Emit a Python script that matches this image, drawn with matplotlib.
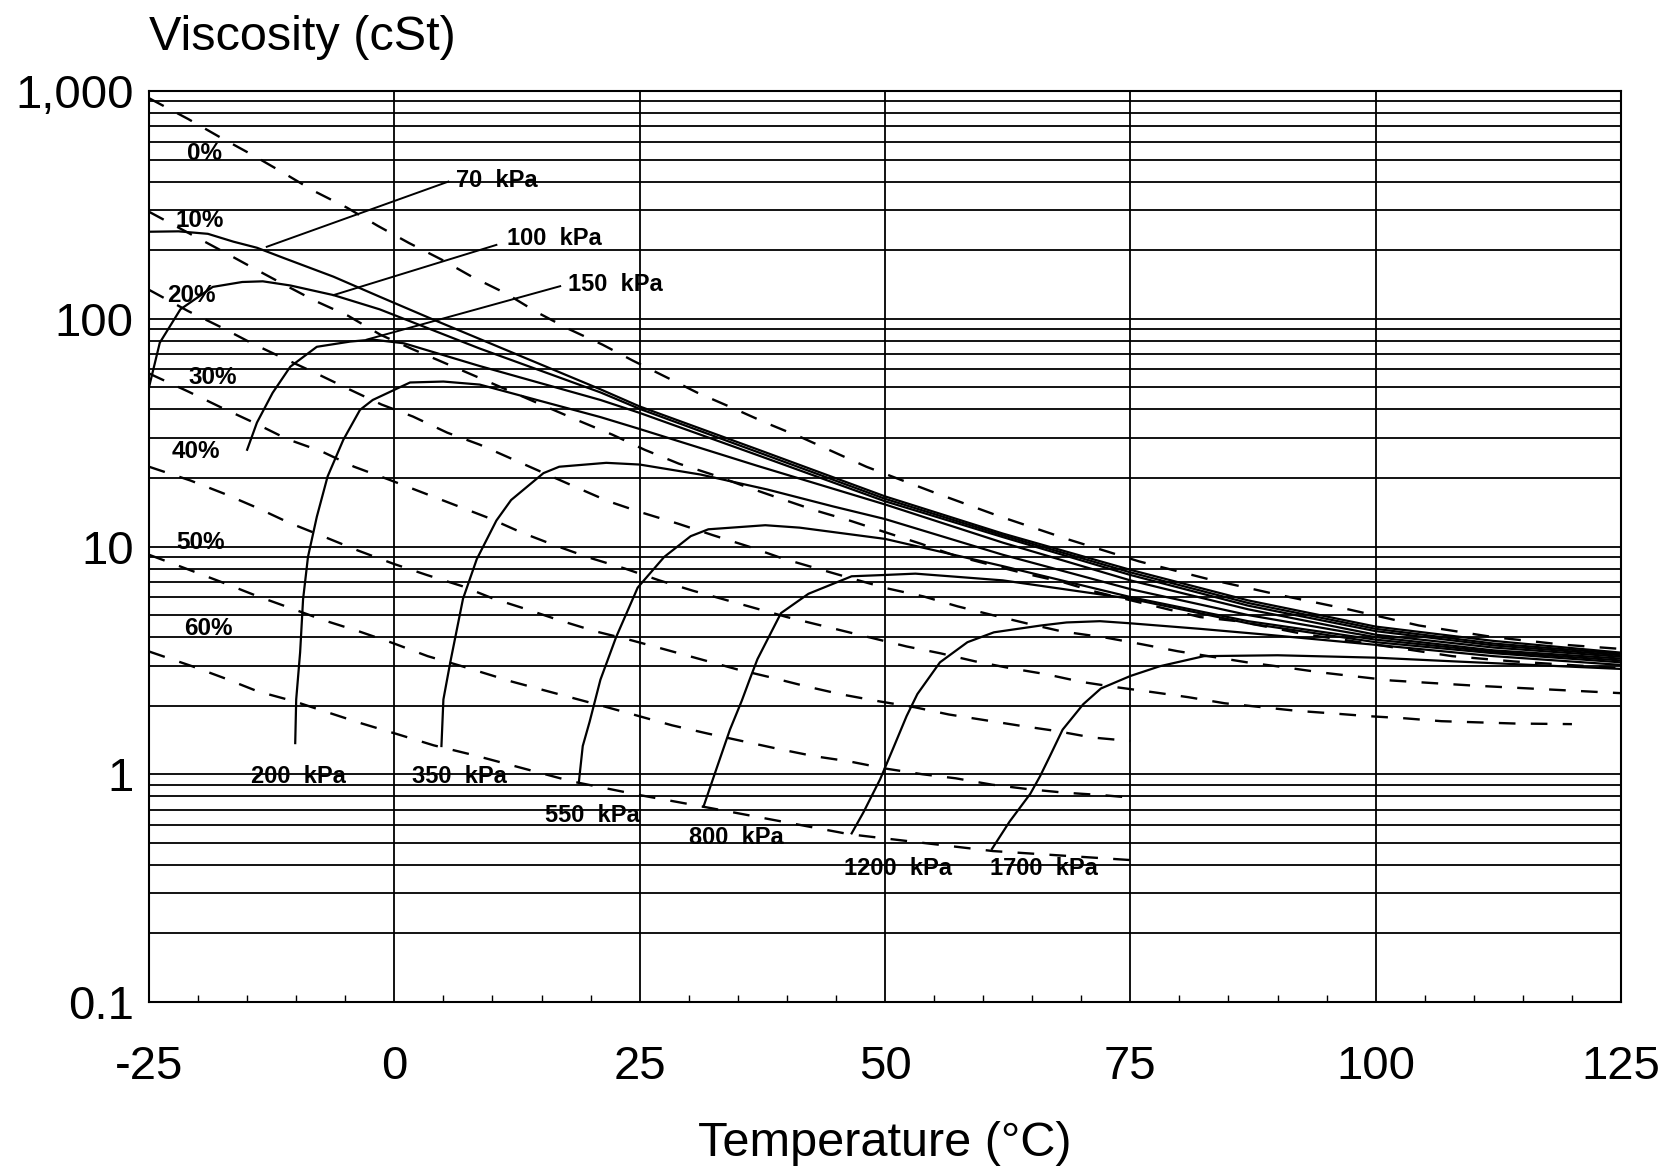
import numpy as np
import matplotlib.pyplot as plt
from matplotlib.ticker import LogLocator, NullFormatter, MultipleLocator

plt.rcParams['font.family'] = ['Liberation Sans', 'DejaVu Sans']
plt.rcParams['lines.scale_dashes'] = False

# ---- dashed lines: refrigerant concentration (T in degC, viscosity in cSt) ----
pct0_T = [-25, -21, -17.8, -14.5, -11.3, -8.2, -4.8, -1.7, 1.5, 4.8, 7.9, 11.4, 14.5, 17.8, 21.2, 24.3,
          27.6, 30.9, 34.4, 37.8, 41.5, 48.1, 54.8, 61.6, 68.8, 75.9, 82.9, 90, 97.2, 104.4, 112, 119.3, 125]
pct0_v = [930, 753, 628, 525, 437, 364, 307, 256, 215, 182, 153, 129, 107, 90, 77, 65.5,
          55.7, 47.3, 40.7, 35, 30.1, 22.4, 17.4, 13.6, 10.7, 8.6, 7.2, 6.15, 5.3, 4.5, 4.0, 3.7, 3.55]

pct10_T = [-25, -17.8, -14.6, -11.2, -8.1, -4.7, -1.4, 1.7, 9.1, 15.4, 18.9, 22.2, 25.5, 29, 32.4, 36,
           39.4, 42.9, 46.4, 49.9, 53.6, 57.2, 60.8, 64.3, 68, 71.3, 82.1, 85.9, 89.4, 93, 96.6, 107.8, 114, 125]
pct10_v = [295, 201, 169, 141, 120, 103, 85, 74, 54, 41.2, 35.5, 31, 26.6, 23.1, 20.7, 18.2,
           16.2, 14.4, 13, 11.6, 10.3, 9.1, 8.3, 7.6, 7.0, 6.35, 4.9, 4.7, 4.4, 4.1, 3.9, 3.3, 3.13, 2.92]

pct20_T = [-25, -21, -17.7, -14.4, -11.2, -7.9, -4.6, -1.3, 1.9, 5.4, 8.7, 18.4, 21.8, 25.2, 28.9, 32.5,
           36.1, 39.6, 43.1, 46.6, 50.2, 53.9, 57.4, 61.1, 64.5, 68, 72.5, 76.2, 79.8, 87.1, 90.7, 94.4,
           97.9, 101.6, 110, 125]
pct20_v = [134, 108, 92, 77.6, 66.8, 57.4, 49, 42, 37.2, 31.6, 28, 18.3, 15.8, 14.1, 12.6, 11.2,
           10, 8.85, 8.0, 7.24, 6.55, 6.04, 5.46, 4.98, 4.59, 4.24, 3.98, 3.72, 3.47, 3.09, 2.95, 2.8,
           2.69, 2.58, 2.45, 2.27]

pct30_T = [-25, -21, -17.6, -14.2, -10.9, -7.45, -4.1, -0.6, 9.7, 13, 16.4, 19.8, 23.5, 27, 30.4, 40,
           52.2, 55.6, 59.2, 62.8, 66.4, 70.1, 73.6, 77.4, 80.9, 84.6, 88.4, 91.9, 95.6, 99.2, 103,
           106.7, 110.4, 114.2, 120]
pct30_v = [57.5, 47.9, 40.7, 34.8, 29.6, 26.2, 22.4, 19.7, 13.3, 11.5, 10.1, 8.95, 8.0, 7.1, 6.4, 4.9,
           3.64, 3.4, 3.13, 2.92, 2.75, 2.54, 2.41, 2.29, 2.18, 2.05, 1.97, 1.9, 1.85, 1.8, 1.76,
           1.71, 1.69, 1.67, 1.66]

pct40_T = [-25, -20.8, -17.4, -14, -10.7, -7.3, -3.7, -0.1, 3.3, 6.9, 10.1, 13.2, 16.9, 20.5, 24.2,
           27.6, 31.3, 34.9, 38.4, 42, 45.6, 49.4, 53, 56.5, 60.1, 63.9, 67.4, 71.1, 75]
pct40_v = [22.4, 19.5, 17.1, 14.8, 12.7, 11.1, 9.6, 8.4, 7.5, 6.7, 5.9, 5.35, 4.73, 4.24, 3.87,
           3.53, 3.19, 2.89, 2.66, 2.43, 2.24, 2.09, 1.97, 1.83, 1.73, 1.63, 1.55, 1.45, 1.40]

pct50_T = [-25, -20.9, -17.5, -13.9, -10.5, -7.1, -3.6, -0.1, 3.4, 6.9, 12, 21.3, 28.3, 31.9, 35.4,
           39.2, 42.8, 46.3, 50, 53.8, 57.2, 60.9, 64.6, 68.3, 72.1, 75]
pct50_v = [9.2, 7.9, 6.95, 6.04, 5.35, 4.73, 4.24, 3.76, 3.3, 2.98, 2.55, 1.99, 1.64, 1.51, 1.40,
           1.29, 1.2, 1.14, 1.06, 1.0, 0.96, 0.90, 0.86, 0.83, 0.81, 0.79]

pct60_T = [-25, -20.6, -17.3, -13.9, -10.2, -6.8, -3.3, 0.3, 4.0, 8.2, 18.1, 25, 31.5, 46.4, 61, 75]
pct60_v = [3.46, 2.98, 2.64, 2.31, 2.09, 1.87, 1.67, 1.5, 1.34, 1.21, 0.93, 0.81, 0.72, 0.545, 0.46, 0.42]

# ---- solid lines: pressure (isobars) ----
p70_T = [-25, -22, -19, -16.4, -14, -11.3, -6.2, -1.5, 4, 8.7, 21, 25, 37, 50, 62, 75, 87, 100, 112, 125]
p70_v = [241, 242, 236, 218, 205, 185, 153, 125, 99, 81.5, 49, 41.2, 26.7, 16.6, 11.4, 7.9, 5.8, 4.45, 3.85, 3.42]

p100_T = [-25, -23.9, -21.8, -18.5, -15.5, -13.4, -10.6, -6.2, -1.5, 8.7, 21, 25, 37, 50, 62, 75, 87, 100, 112, 125]
p100_v = [50, 78.5, 110, 138, 145, 146, 140, 127, 110, 74, 47.5, 40.2, 26, 16.2, 11.2, 7.7, 5.65, 4.35, 3.75, 3.38]

p150_T = [-15, -14, -12.4, -10.6, -7.9, -4.5, -2.2, 1, 8.7, 21, 25, 37, 50, 62, 75, 87, 100, 112, 125]
p150_v = [26.6, 35, 47.3, 61.6, 75.3, 79.4, 81, 78, 62, 44, 38.6, 25.2, 15.8, 11, 7.5, 5.5, 4.25, 3.68, 3.33]

p200_T = [-10.1, -10, -9.6, -9.3, -8.8, -7.9, -6.8, -5.2, -3.5, -2.2, 1.6, 5, 8.7, 21, 25, 37, 50, 62,
          75, 87, 100, 112, 125]
p200_v = [1.37, 2.13, 3.43, 5.86, 9.0, 13.5, 20.3, 29.4, 39.8, 44, 52.5, 53, 51.4, 37, 32.8, 22.6, 15.3,
          10.4, 7.1, 5.3, 4.1, 3.6, 3.28]

p350_T = [4.8, 5.0, 5.7, 7.0, 8.4, 10.4, 11.9, 15.2, 16.8, 21.6, 25, 31.2, 38, 44.7, 50, 62, 75, 87,
          100, 112, 125]
p350_v = [1.33, 2.13, 3.1, 5.9, 8.8, 13, 16, 21, 22.4, 23.3, 22.9, 20.7, 17.8, 15, 13.2, 9.2, 6.5, 5.0,
          4.0, 3.5, 3.22]

p550_T = [18.8, 19.2, 19.9, 21, 22.6, 24.8, 27.5, 30.2, 32, 37.8, 41.3, 50, 62, 75, 87, 100, 112, 125]
p550_v = [0.92, 1.33, 1.7, 2.6, 4.0, 6.6, 9.0, 11.1, 11.9, 12.4, 12.1, 10.8, 8.2, 6.0, 4.7, 3.9, 3.45, 3.16]

p800_T = [31.5, 32.9, 34.2, 35.4, 36.2, 37, 39.4, 42.2, 46.6, 50, 53.1, 58.4, 62, 75, 87, 100, 112, 125]
p800_v = [0.72, 1.08, 1.57, 2.1, 2.6, 3.2, 5.1, 6.2, 7.4, 7.5, 7.6, 7.3, 7.1, 5.9, 4.6, 3.8, 3.4, 3.1]

p1200_T = [46.6, 47.8, 49.5, 50.8, 52.2, 53.3, 55.6, 58.4, 61.1, 65.9, 68.5, 71.9, 75, 82.1, 88.9,
           100, 112, 125]
p1200_v = [0.55, 0.68, 0.95, 1.29, 1.8, 2.25, 3.1, 3.8, 4.2, 4.5, 4.64, 4.7, 4.6, 4.35, 4.1, 3.7, 3.3, 3.02]

p1700_T = [60.9, 62.7, 64.8, 65.8, 66.8, 68.1, 70.2, 72, 75, 78, 82.5, 90, 100, 108.7, 125]
p1700_v = [0.47, 0.62, 0.82, 0.98, 1.2, 1.57, 2.03, 2.38, 2.7, 2.98, 3.3, 3.33, 3.25, 3.12, 2.9]

# leader lines from the top labels to their curves
lead70_T, lead70_v = [-13.0, 5.5], [207, 400]
lead100_T, lead100_v = [-6.2, 10.4], [127, 211]
lead150_T, lead150_v = [-2.8, 16.9], [81, 139]

pct_labels = ['0%', '10%', '20%', '30%', '40%', '50%', '60%']
kpa_labels = ['70  kPa', '100  kPa', '150  kPa', '200  kPa', '350  kPa', '550  kPa',
              '800  kPa', '1200  kPa', '1700  kPa']

x_ticks = [-25, 0, 25, 50, 75, 100, 125]
y_ticks = [0.1, 1, 10, 100, 1000]
y_ticklabels = ['0.1', '1', '10', '100', '1,000']

# ---- figure ----
fig = plt.figure(figsize=(16.66, 11.67), dpi=100)
ax = fig.add_axes([149 / 1666, 1 - 1002 / 1167, 1472 / 1666, 911 / 1167])
ax.set_yscale('log')
ax.set_xlim(-25, 125)
ax.set_ylim(0.1, 1000)

DASH = (0, (12, 11))
pct_series = [(pct0_T, pct0_v), (pct10_T, pct10_v), (pct20_T, pct20_v), (pct30_T, pct30_v),
              (pct40_T, pct40_v), (pct50_T, pct50_v), (pct60_T, pct60_v)]
for T, v in pct_series:
    ax.plot(T, v, color='black', linewidth=1.7, linestyle=DASH, zorder=3)

kpa_series = [(p70_T, p70_v), (p100_T, p100_v), (p150_T, p150_v), (p200_T, p200_v),
              (p350_T, p350_v), (p550_T, p550_v), (p800_T, p800_v), (p1200_T, p1200_v),
              (p1700_T, p1700_v)]
for T, v in kpa_series:
    ax.plot(T, v, color='black', linewidth=1.6, zorder=4)

for T, v in [(lead70_T, lead70_v), (lead100_T, lead100_v), (lead150_T, lead150_v)]:
    ax.plot(T, v, color='black', linewidth=1.4, zorder=4)

# percent labels (centre positions)
pct_pos = [(-19.3, 529), (-19.8, 269), (-20.7, 127), (-18.5, 55), (-20.2, 26.1), (-19.8, 10.4), (-18.9, 4.37)]
for lab, (x, y) in zip(pct_labels, pct_pos):
    ax.text(x, y, lab, fontsize=17.5, fontweight='bold', ha='center', va='center', zorder=5)

# pressure labels
top_pos = [(6.3, 405), (11.5, 224), (17.7, 141)]
for lab, (x, y) in zip(kpa_labels[:3], top_pos):
    ax.text(x, y, lab, fontsize=17, fontweight='bold', ha='left', va='center', zorder=5)
bot_pos = [(-9.8, 0.98), (6.6, 0.98), (20.2, 0.66), (34.9, 0.53), (51.3, 0.387), (66.2, 0.387)]
for lab, (x, y) in zip(kpa_labels[3:], bot_pos):
    ax.text(x, y, lab, fontsize=17, fontweight='bold', ha='center', va='center', zorder=5)

# grid and ticks
ax.set_xticks(x_ticks)
ax.set_xticklabels([str(t) for t in x_ticks], fontsize=34)
ax.xaxis.set_minor_locator(MultipleLocator(5))
ax.set_yticks(y_ticks)
ax.set_yticklabels(y_ticklabels, fontsize=34)
ax.yaxis.set_minor_locator(LogLocator(base=10, subs=np.arange(2, 10) * 1.0, numticks=20))
ax.yaxis.set_minor_formatter(NullFormatter())

ax.grid(which='major', axis='both', color='black', linewidth=1.3)
ax.yaxis.grid(True, which='minor', color='black', linewidth=1.3)
ax.xaxis.grid(False, which='minor')
ax.tick_params(axis='x', which='major', length=0, pad=31)
ax.tick_params(axis='x', which='minor', direction='in', length=5, width=1, top=False)
ax.tick_params(axis='y', which='both', length=0, pad=11)
for s in ax.spines.values():
    s.set_color('black')
    s.set_linewidth(1.5)

fig.text(149 / 1666, 1 - 50 / 1167, 'Viscosity (cSt)', fontsize=35, ha='left', va='baseline')
fig.text(885 / 1666, 1 - 1156 / 1167, 'Temperature (°C)', fontsize=35, ha='center', va='baseline')

fig.savefig('out.png', dpi=100)
